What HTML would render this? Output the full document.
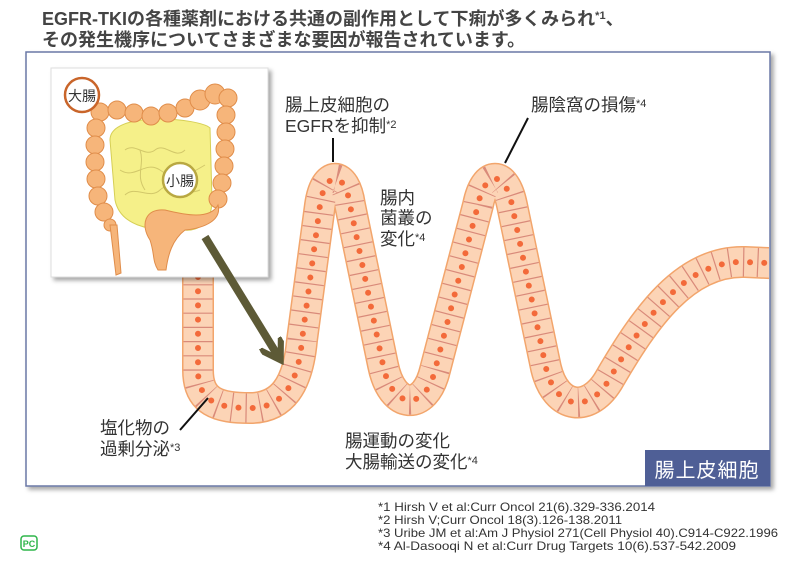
<!DOCTYPE html>
<html><head><meta charset="utf-8"><style>
html,body{margin:0;padding:0;background:#fff;}
body{width:800px;height:566px;overflow:hidden;position:relative;font-family:"Liberation Sans","Noto Sans CJK JP",sans-serif;}
svg text{font-family:"Liberation Sans","Noto Sans CJK JP",sans-serif;}
</style></head><body>
<svg width="800" height="566" viewBox="0 0 800 566" xmlns="http://www.w3.org/2000/svg" xmlns:xlink="http://www.w3.org/1999/xlink">
<defs>
<filter id="sh" x="-10%" y="-10%" width="130%" height="130%"><feDropShadow dx="3" dy="3" stdDeviation="2" flood-color="#000" flood-opacity="0.35"/></filter>
<marker id="ah" viewBox="0 0 10 10" refX="6" refY="5" markerWidth="3.2" markerHeight="3.2" orient="auto"><path d="M0,0 L8,5 L0,10" fill="none" stroke="#5d5a36" stroke-width="2.4"/></marker>
<clipPath id="fr"><rect x="27" y="53" width="742" height="432"/></clipPath>
</defs>
<text x="42" y="25" font-size="18" fill="#444" font-weight="bold">EGFR-TKIの各種薬剤における共通の副作用として下痢が多くみられ<tspan font-size="11" dy="-6">*1</tspan><tspan dy="6">、</tspan></text>
<text x="42" y="46" font-size="18" fill="#444" font-weight="bold">その発生機序についてさまざまな要因が報告されています。</text>
<rect x="26" y="52" width="744" height="434" fill="#fff" stroke="#6a78a6" stroke-width="1.5" filter="url(#sh)"/>
<g fill="none" stroke-linejoin="round" clip-path="url(#fr)">
<path d="M198,270 L198,370 C198,402 218,408 250,408 C282,408 298,385 302,340 L320,205 C325,170 345,170 350,205 L383,365 C392,410 425,412 435,370 L478,205 C485,170 505,170 512,205 L546,368 C556,410 590,414 610,378 C645,318 685,260 745,262 L790,264" stroke="#f2a56c" stroke-width="32"/>
<path d="M198,270 L198,370 C198,402 218,408 250,408 C282,408 298,385 302,340 L320,205 C325,170 345,170 350,205 L383,365 C392,410 425,412 435,370 L478,205 C485,170 505,170 512,205 L546,368 C556,410 590,414 610,378 C645,318 685,260 745,262 L790,264" stroke="#fcd4b6" stroke-width="29"/>
<path d="M198,270 L198,370 C198,402 218,408 250,408 C282,408 298,385 302,340 L320,205 C325,170 345,170 350,205 L383,365 C392,410 425,412 435,370 L478,205 C485,170 505,170 512,205 L546,368 C556,410 590,414 610,378 C645,318 685,260 745,262 L790,264" stroke="#d98a7a" stroke-width="29" stroke-dasharray="1.2 13"/>
<path d="M198,270 L198,370 C198,402 218,408 250,408 C282,408 298,385 302,340 L320,205 C325,170 345,170 350,205 L383,365 C392,410 425,412 435,370 L478,205 C485,170 505,170 512,205 L546,368 C556,410 590,414 610,378 C645,318 685,260 745,262 L790,264" stroke="#f36a3a" stroke-width="6" stroke-linecap="round" stroke-dasharray="0 14.2" stroke-dashoffset="-7"/>
</g>
<rect x="51" y="68" width="217" height="209" fill="#fff" stroke="#ddd" filter="url(#sh)"/>
<g>
<path d="M110,140 C110,110 200,118 210,128 L212,200 C212,225 195,235 175,228 C150,232 120,225 115,200 Z" fill="#f5f089" stroke="#d6cf55"/>
<path d="M125,150 c10,-8 20,8 30,0 s20,10 30,0 M120,170 c15,10 25,-10 40,0 s20,10 45,-5 M125,195 c10,-10 25,5 35,-5 s20,8 40,0 M140,150 c5,15 -5,25 5,40" stroke="#d2c86a" fill="none"/>
<g fill="#f6b57a" stroke="#e08d4a" stroke-width="1">
<circle cx="100" cy="112" r="9"/><circle cx="117" cy="110" r="9"/><circle cx="134" cy="113" r="9"/><circle cx="151" cy="116" r="9"/><circle cx="168" cy="113" r="9"/><circle cx="185" cy="108" r="9"/><circle cx="200" cy="100" r="10"/><circle cx="215" cy="94" r="10"/><circle cx="228" cy="98" r="9"/>
<circle cx="96" cy="128" r="9"/><circle cx="95" cy="145" r="9"/><circle cx="95" cy="162" r="9"/><circle cx="96" cy="179" r="9"/><circle cx="98" cy="196" r="9"/><circle cx="104" cy="212" r="9"/><circle cx="110" cy="225" r="6"/>
<circle cx="226" cy="115" r="9"/><circle cx="226" cy="132" r="9"/><circle cx="225" cy="149" r="9"/><circle cx="224" cy="166" r="9"/><circle cx="222" cy="183" r="9"/><circle cx="218" cy="199" r="9"/>
<path d="M110,225 l6,50 l5,-2 l-4,-48 Z"/>
<path d="M218,205 C210,220 185,215 165,210 C145,208 140,225 150,240 C155,255 152,260 158,270 L166,270 C168,255 172,240 185,230 C205,228 222,220 218,205 Z"/>
</g>
<circle cx="82" cy="95" r="17" fill="#fff" stroke="#c9652a" stroke-width="2.5"/>
<text x="82" y="101" font-size="14" text-anchor="middle" fill="#333">大腸</text>
<circle cx="180" cy="180" r="17" fill="#fff" stroke="#b9a842" stroke-width="2.5"/>
<text x="180" y="186" font-size="14" text-anchor="middle" fill="#333">小腸</text>
</g>
<line x1="205" y1="237" x2="278" y2="356" stroke="#5d5a36" stroke-width="8" marker-end="url(#ah)"/>
<g stroke="#111" stroke-width="2">
<line x1="333" y1="138" x2="333" y2="162"/>
<line x1="528" y1="118" x2="505" y2="163"/>
<line x1="180" y1="430" x2="208" y2="398"/>
</g>
<g font-size="17.5" fill="#333">
<text x="285" y="111">腸上皮細胞の</text>
<text x="285" y="132">EGFRを抑制<tspan font-size="11" dy="-4">*2</tspan></text>
<text x="531" y="111">腸陰窩の損傷<tspan font-size="11" dy="-4">*4</tspan></text>
<text x="380" y="204">腸内</text>
<text x="380" y="224">菌叢の</text>
<text x="380" y="245">変化<tspan font-size="11" dy="-4">*4</tspan></text>
<text x="100" y="434">塩化物の</text>
<text x="100" y="455">過剰分泌<tspan font-size="11" dy="-4">*3</tspan></text>
<text x="345" y="447">腸運動の変化</text>
<text x="345" y="468">大腸輸送の変化<tspan font-size="11" dy="-4">*4</tspan></text>
</g>
<rect x="645" y="450" width="125" height="36" fill="#4f5f96"/>
<text x="707" y="477" font-size="20" fill="#fff" text-anchor="middle" letter-spacing="1">腸上皮細胞</text>
<g font-size="12" fill="#333">
<text x="378" y="511" textLength="277" lengthAdjust="spacingAndGlyphs">*1 Hirsh V et al:Curr Oncol 21(6).329-336.2014</text>
<text x="378" y="524" textLength="244" lengthAdjust="spacingAndGlyphs">*2 Hirsh V;Curr Oncol 18(3).126-138.2011</text>
<text x="378" y="537" textLength="400" lengthAdjust="spacingAndGlyphs">*3 Uribe JM et al:Am J Physiol 271(Cell Physiol 40).C914-C922.1996</text>
<text x="378" y="550" textLength="358" lengthAdjust="spacingAndGlyphs">*4 Al-Dasooqi N et al:Curr Drug Targets 10(6).537-542.2009</text>
</g>
<rect x="21" y="536" width="16" height="14" rx="3" fill="#fff" stroke="#2fb54a" stroke-width="1.5"/>
<text x="29" y="547" font-size="9" font-weight="bold" fill="#2fb54a" text-anchor="middle">PC</text>
</svg>
</body></html>
